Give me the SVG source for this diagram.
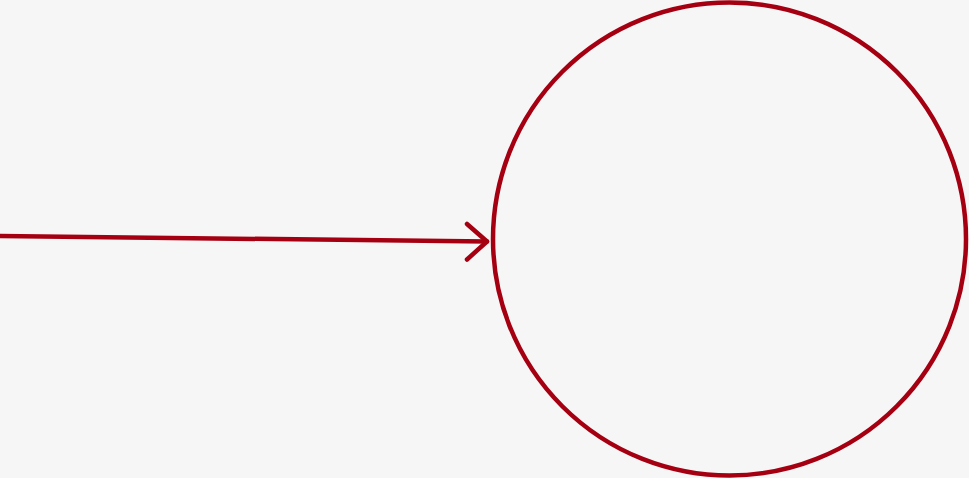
<svg xmlns="http://www.w3.org/2000/svg" width="969" height="478" viewBox="0 0 969 478">
<style>
.s{fill:none;stroke:#a50012;stroke-width:4.5;stroke-linecap:round;stroke-linejoin:round}
</style>
<rect width="969" height="478" fill="#f6f6f6"/>
<g id="circle"><circle class="s" cx="729.5" cy="239" r="236.5"/></g>
<g id="connectors">
<path class="s" d="M0 236 L487 241.5"/>
<path class="s" d="M467 224 L487 241.5 L467 259.5"/>
</g>
</svg>
